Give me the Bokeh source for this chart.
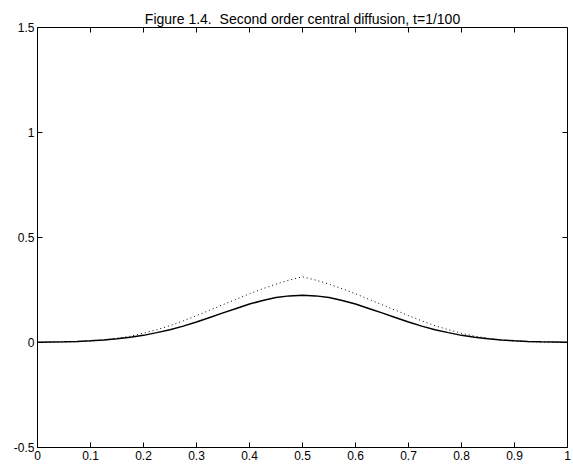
import math
from bokeh.plotting import figure
from bokeh.models import FixedTicker, Range1d
from bokeh.embed import file_html
from bokeh.resources import INLINE

# ---- data ----
x_half = [0.000, 0.025, 0.050, 0.075, 0.100, 0.125, 0.150, 0.175, 0.200, 0.225,
          0.250, 0.275, 0.300, 0.325, 0.350, 0.375, 0.400, 0.425, 0.450, 0.475, 0.500]
solid_half = [0.001, 0.002, 0.003, 0.005, 0.008, 0.012, 0.018, 0.025, 0.034, 0.047,
              0.061, 0.078, 0.098, 0.119, 0.141, 0.162, 0.183, 0.200, 0.214, 0.222, 0.225]
dotted_half = [0.000, 0.001, 0.002, 0.004, 0.007, 0.012, 0.020, 0.030, 0.044, 0.061,
               0.080, 0.103, 0.128, 0.154, 0.180, 0.206, 0.232, 0.256, 0.278, 0.297, 0.313]

x_vals = x_half + [round(1.0 - v, 3) for v in reversed(x_half[:-1])]
solid_vals = solid_half + list(reversed(solid_half[:-1]))
dotted_vals = dotted_half + list(reversed(dotted_half[:-1]))

x_ticks = [0, 0.1, 0.2, 0.3, 0.4, 0.5, 0.6, 0.7, 0.8, 0.9, 1]
x_tick_labels = ["0", "0.1", "0.2", "0.3", "0.4", "0.5", "0.6", "0.7", "0.8", "0.9", "1"]
y_ticks = [-0.5, 0, 0.5, 1, 1.5]
y_tick_labels = ["-0.5", "0", "0.5", "1", "1.5"]

title_text = "Figure 1.4.\u00a0 Second order central diffusion, t=1/100"

FONT = "Liberation Sans"
X_MIN, X_MAX = 0, 1
Y_MIN, Y_MAX = -0.5, 1.5

p = figure(width=573, height=468, output_backend="svg", toolbar_location=None,
           x_range=Range1d(X_MIN, X_MAX), y_range=Range1d(Y_MIN, Y_MAX),
           min_border_left=37, min_border_right=6, min_border_top=27, min_border_bottom=21,
           title=title_text)
p.title.text_font = FONT
p.title.text_font_size = "14px"
p.title.text_font_style = "normal"
p.title.align = "center"
p.title.text_color = "black"
p.title.standoff = 2

p.grid.visible = False
p.outline_line_color = "black"
p.outline_line_width = 1
p.background_fill_color = "white"
p.border_fill_color = "white"

def style_axis(ax, ticks, labels):
    ax.ticker = FixedTicker(ticks=ticks)
    ax.major_label_overrides = {t: l for t, l in zip(ticks, labels)}
    ax.major_tick_in = 5
    ax.major_tick_out = 0
    ax.minor_tick_in = 0
    ax.minor_tick_out = 0
    ax.axis_line_color = "black"
    ax.major_tick_line_color = "black"
    ax.major_label_text_font = FONT
    ax.major_label_text_font_size = "12px"
    ax.major_label_text_color = "black"
    ax.major_label_standoff = 3

style_axis(p.xaxis[0], x_ticks, x_tick_labels)
style_axis(p.yaxis[0], y_ticks, y_tick_labels)

# mirrored inward ticks on the top and right edges of the box
p.ray(x=x_ticks, y=[Y_MAX] * len(x_ticks), length=5, length_units="screen",
      angle=-math.pi / 2, line_color="black", line_width=1)
p.ray(x=[X_MAX] * len(y_ticks), y=y_ticks, length=5, length_units="screen",
      angle=math.pi, line_color="black", line_width=1)

p.line(x_vals, dotted_vals, line_color="black", line_width=1, line_dash="1 3")
p.line(x_vals, solid_vals, line_color="black", line_width=1.5)

open("out.html", "w").write(file_html(p, INLINE))
